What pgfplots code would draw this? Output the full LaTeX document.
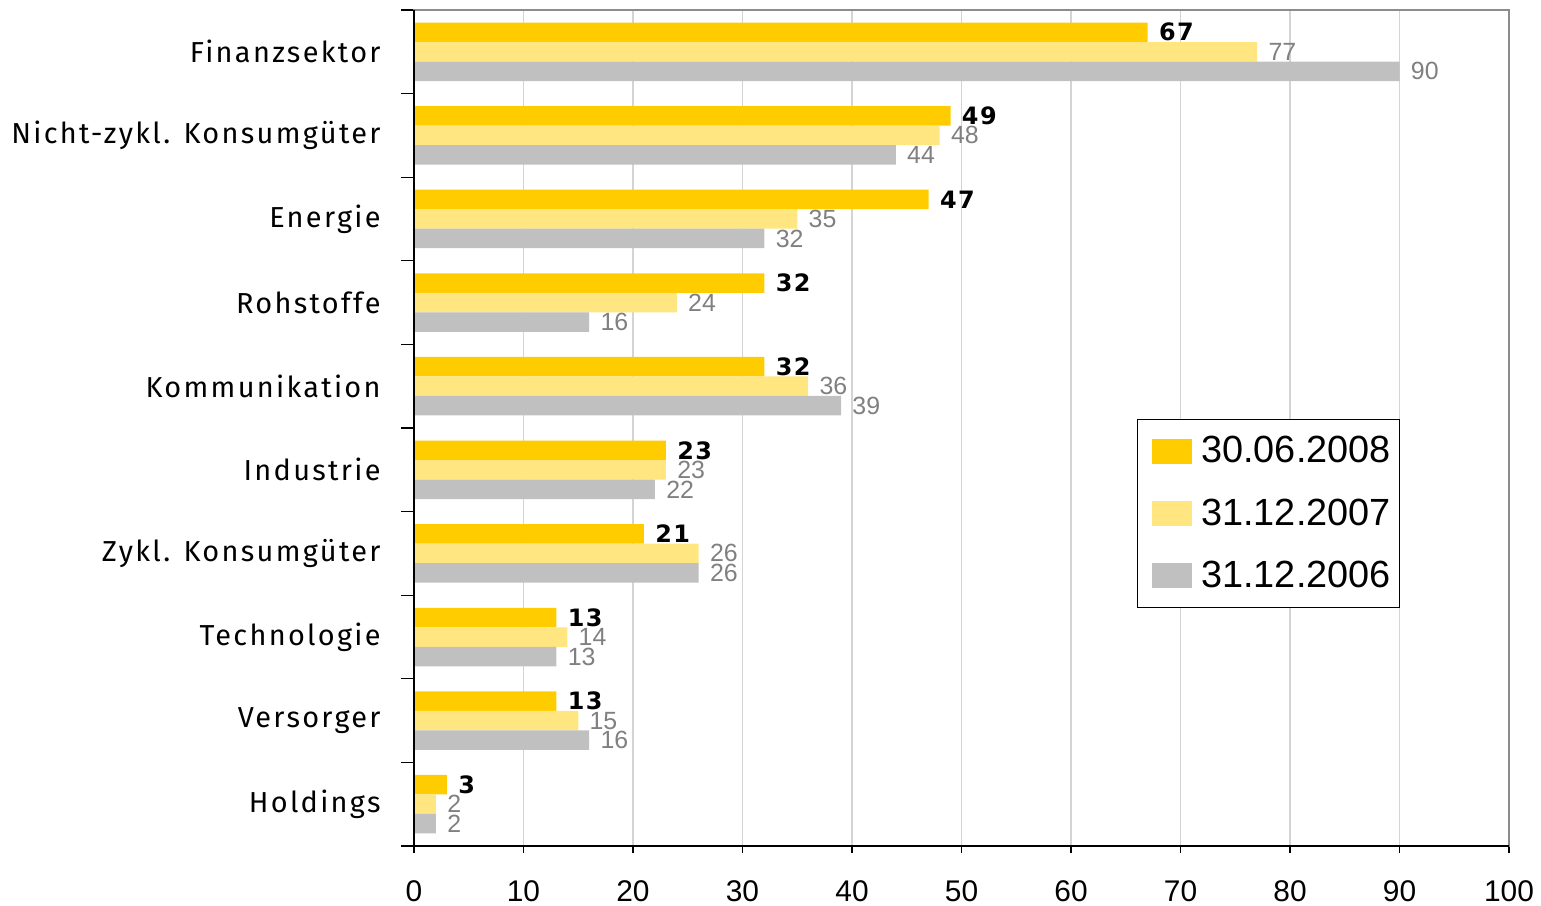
\documentclass[border=0pt]{standalone}
\usepackage{fontspec}
\setmainfont{Liberation Sans}
\newfontfamily\catfont[LetterSpace=8]{Fira Sans}
\newfontfamily\bfont[LetterSpace=6]{DejaVu Sans}
\usepackage{pgfplots}
\pgfplotsset{compat=1.18}
\definecolor{cA}{HTML}{FFCC00}
\definecolor{cB}{HTML}{FFE680}
\definecolor{cC}{HTML}{C0C0C0}
\definecolor{frameg}{HTML}{8C8C8C}
\definecolor{gridg}{HTML}{D4D4D4}
\definecolor{lblg}{HTML}{808080}
\begin{document}
\begin{tikzpicture}
\useasboundingbox (0,0) rectangle (770.5bp,453bp);
\begin{axis}[
  at={(207bp,30bp)}, anchor=south west,
  scale only axis, width=547.5bp, height=418bp,
  xbar=0pt, bar width=9.75bp,
  xmin=0, xmax=100, ymin=-0.5, ymax=9.5, y dir=reverse,
  xtick={0,10,...,100},
  ytick={0,...,9},
  yticklabels={Finanzsektor, Nicht-zykl. Konsumgüter, Energie, Rohstoffe, Kommunikation, Industrie, Zykl. Konsumgüter, Technologie, Versorger, Holdings},
  minor ytick={-0.5,0.5,...,9.5},
  tick align=outside, xtick pos=bottom, ytick pos=left,
  major tick length=3.5bp, minor tick length=6.5bp,
  major y tick style={draw=none},
  minor y tick style={draw=black, line width=0.6bp},
  major x tick style={draw=black, line width=0.6bp},
  xmajorgrids, grid style={draw=gridg, line width=0.6bp},
  axis line style={draw=frameg, line width=1.1bp},
  /pgf/number format/assume math mode=true,
  xticklabel style={font=\fontsize{15}{17}\selectfont, inner sep=0pt, anchor=north, yshift=-13.5bp},
  yticklabel style={font=\catfont\fontsize{14.5}{17}\selectfont, inner sep=0pt, anchor=east, xshift=-13bp},
  legend style={at={(0.660,0.511)}, anchor=north west, draw=black, line width=0.6bp,
    font=\fontsize{19}{22}\selectfont, inner xsep=4.5bp, inner ysep=8.5bp, row sep=16.5bp,
    nodes={inner sep=0pt},
    /tikz/every odd column/.append style={column sep=4.5bp}},
  legend cell align=left,
  legend image code/.code={\path (0bp,0bp); \fill[#1] (3bp,-6.25bp) rectangle (23bp,6.25bp);},
  after end axis/.code={\draw[black, line width=1.1bp] (axis description cs:0,1) -- (axis description cs:0,0) -- (axis description cs:1,0);},
]
\addplot[fill=cA, draw=none, bar shift=9.75bp, nodes near coords,
  every node near coord/.append style={font=\bfont\bfseries\fontsize{12}{14}\selectfont, text=black, anchor=west, inner sep=0pt, xshift=5.5bp}]
  coordinates {(67,0) (49,1) (47,2) (32,3) (32,4) (23,5) (21,6) (13,7) (13,8) (3,9)};
\addplot[fill=cB, draw=none, bar shift=0bp, nodes near coords,
  every node near coord/.append style={font=\fontsize{12.5}{14}\selectfont, text=lblg, anchor=west, inner sep=0pt, xshift=5.5bp}]
  coordinates {(77,0) (48,1) (35,2) (24,3) (36,4) (23,5) (26,6) (14,7) (15,8) (2,9)};
\addplot[fill=cC, draw=none, bar shift=-9.75bp, nodes near coords,
  every node near coord/.append style={font=\fontsize{12.5}{14}\selectfont, text=lblg, anchor=west, inner sep=0pt, xshift=5.5bp}]
  coordinates {(90,0) (44,1) (32,2) (16,3) (39,4) (22,5) (26,6) (13,7) (16,8) (2,9)};
\legend{30.06.2008, 31.12.2007, 31.12.2006}
\end{axis}
\end{tikzpicture}
\end{document}
